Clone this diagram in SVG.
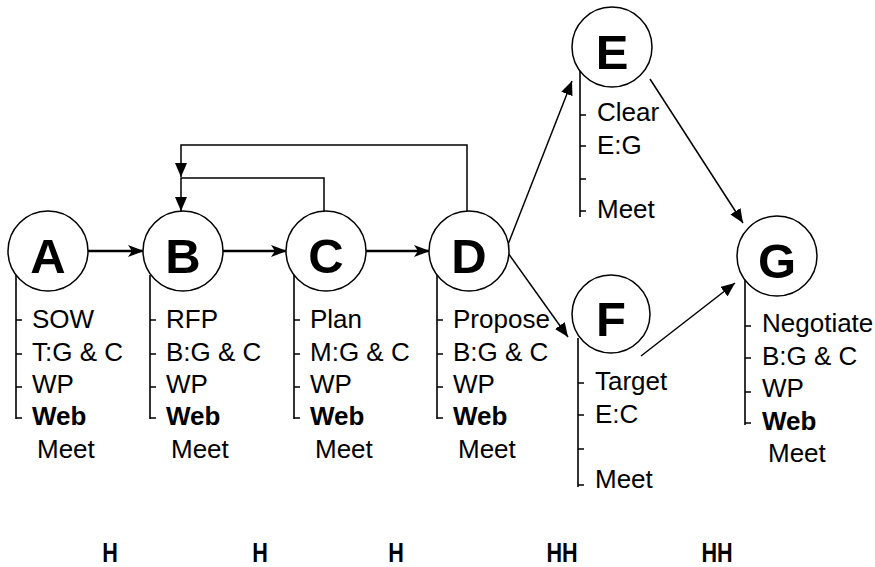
<svg xmlns="http://www.w3.org/2000/svg" width="875" height="567" viewBox="0 0 875 567">
<defs>
<marker id="ah" markerUnits="userSpaceOnUse" markerWidth="16" markerHeight="12" viewBox="0 0 16 12" refX="15" refY="6" orient="auto">
<path d="M0,0 L16,6 L0,12 L4,6 z" fill="#000"/>
</marker>
<marker id="ah2" markerUnits="userSpaceOnUse" markerWidth="14" markerHeight="12" viewBox="0 0 14 12" refX="14" refY="6" orient="auto">
<path d="M0,0 L14,6 L0,12 z" fill="#000"/>
</marker>
<style>
.c{fill:#fff;stroke:#000;stroke-width:1.5}
.L{font-family:"Liberation Sans",Arial,sans-serif;font-weight:bold;font-size:49px;text-anchor:middle;fill:#000}
.t{font-family:"Liberation Sans",Arial,sans-serif;font-size:26px;fill:#000}
.b{font-weight:bold}
.br{fill:none;stroke:#000;stroke-width:1.6}
.k{fill:none;stroke:#000;stroke-width:1.3}
.a{fill:none;stroke:#000;stroke-width:2.5;marker-end:url(#ah)}
.d{fill:none;stroke:#000;stroke-width:1.5;marker-end:url(#ah2)}
.h{font-family:"Liberation Sans",Arial,sans-serif;font-weight:bold;font-size:27px;text-anchor:middle;fill:#000}
</style>
</defs>
<rect width="875" height="567" fill="#fff"/>
<g id="connectors">
<path class="a" d="M88,251 H143"/>
<path class="a" d="M223,251 H286"/>
<path class="a" d="M366,251 H429"/>
<path class="d" d="M467,211 V145 H181 V177"/>
<path class="d" d="M324,211 V178 H181 V211"/>
<path class="d" d="M507,247 L572,81"/>
<path class="d" d="M508,253 L568,337"/>
<path class="d" d="M650,79 L743,223"/>
<path class="d" d="M641,356 L735,283"/>
</g>
<g id="node-A">
<circle class="c" cx="48" cy="251" r="40"/>
<text class="L" x="48" y="273">A</text>
<path class="br" d="M16,275 V419"/>
<path class="k" d="M16,320 h6 M16,354 h6 M16,387 h6 M16,418 h6"/>
<text class="t" x="32" y="328">SOW</text>
<text class="t" x="32" y="361">T:G &amp; C</text>
<text class="t" x="32" y="393">WP</text>
<text class="t b" x="32" y="425">Web</text>
<text class="t" x="37" y="458">Meet</text>
</g>
<g id="node-B">
<circle class="c" cx="183" cy="251" r="40"/>
<text class="L" x="183" y="273">B</text>
<path class="br" d="M150,275 V419"/>
<path class="k" d="M150,320 h6 M150,354 h6 M150,387 h6 M150,418 h6"/>
<text class="t" x="166" y="328">RFP</text>
<text class="t" x="166" y="361">B:G &amp; C</text>
<text class="t" x="166" y="393">WP</text>
<text class="t b" x="166" y="425">Web</text>
<text class="t" x="171" y="458">Meet</text>
</g>
<g id="node-C">
<circle class="c" cx="326" cy="251" r="40"/>
<text class="L" x="326" y="273">C</text>
<path class="br" d="M294,275 V419"/>
<path class="k" d="M294,320 h6 M294,354 h6 M294,387 h6 M294,418 h6"/>
<text class="t" x="310" y="328">Plan</text>
<text class="t" x="310" y="361">M:G &amp; C</text>
<text class="t" x="310" y="393">WP</text>
<text class="t b" x="310" y="425">Web</text>
<text class="t" x="315" y="458">Meet</text>
</g>
<g id="node-D">
<circle class="c" cx="469" cy="251" r="40"/>
<text class="L" x="469" y="273">D</text>
<path class="br" d="M437,275 V419"/>
<path class="k" d="M437,320 h6 M437,354 h6 M437,387 h6 M437,418 h6"/>
<text class="t" x="453" y="328">Propose</text>
<text class="t" x="453" y="361">B:G &amp; C</text>
<text class="t" x="453" y="393">WP</text>
<text class="t b" x="453" y="425">Web</text>
<text class="t" x="458" y="458">Meet</text>
</g>
<g id="node-E">
<circle class="c" cx="612" cy="47" r="40"/>
<text class="L" x="612" y="69">E</text>
<path class="br" d="M580,71 V217"/>
<path class="k" d="M580,115 h6 M580,146 h6 M580,179 h6 M580,211 h6"/>
<text class="t" x="597" y="121">Clear</text>
<text class="t" x="597" y="154">E:G</text>
<text class="t" x="597" y="218">Meet</text>
</g>
<g id="node-F">
<circle class="c" cx="611" cy="314" r="39"/>
<text class="L" x="611" y="336">F</text>
<path class="br" d="M578,338 V487"/>
<path class="k" d="M578,383 h6 M578,415 h6 M578,449 h6 M578,485 h6"/>
<text class="t" x="595" y="390">Target</text>
<text class="t" x="595" y="423">E:C</text>
<text class="t" x="595" y="488">Meet</text>
</g>
<g id="node-G">
<circle class="c" cx="777" cy="256" r="40"/>
<text class="L" x="777" y="278">G</text>
<path class="br" d="M745,280 V425"/>
<path class="k" d="M745,326 h6 M745,358 h6 M745,392 h6 M745,423 h6"/>
<text class="t" x="762" y="332">Negotiate</text>
<text class="t" x="762" y="365">B:G &amp; C</text>
<text class="t" x="762" y="397">WP</text>
<text class="t b" x="762" y="430">Web</text>
<text class="t" x="768" y="462">Meet</text>
</g>
<g id="labels">
<text class="h" transform="translate(110,562) scale(0.8,1)">H</text>
<text class="h" transform="translate(260,562) scale(0.8,1)">H</text>
<text class="h" transform="translate(396,562) scale(0.8,1)">H</text>
<text class="h" transform="translate(562,562) scale(0.8,1)">HH</text>
<text class="h" transform="translate(717,562) scale(0.8,1)">HH</text>
</g>
</svg>
